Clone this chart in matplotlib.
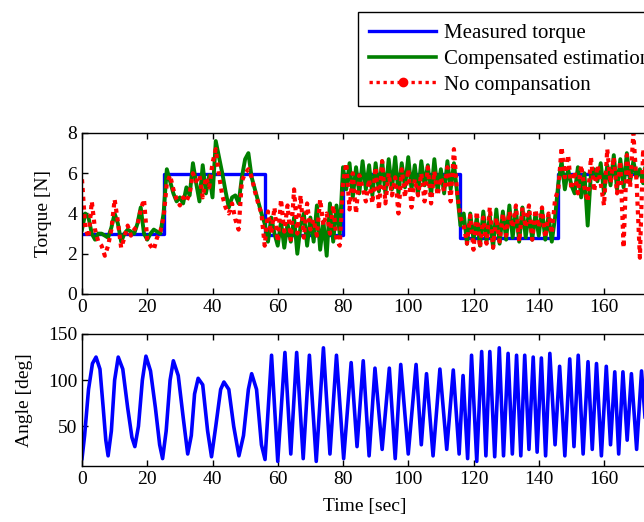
"""Measured vs. estimated torque and joint angle over time."""

import matplotlib

matplotlib.use("Agg")
import matplotlib.pyplot as plt
from matplotlib.lines import Line2D

plt.rcParams["font.family"] = ["Liberation Serif", "DejaVu Serif"]
plt.rcParams["font.size"] = 14

# measured torque: piecewise constant levels (start times)
meas_t = [0, 25, 56, 80, 116, 146, 180]
meas_v = [3.0, 5.95, 2.95, 5.95, 2.8, 5.95, 5.95]

# estimates sampled once per second, t = 0..175
est_t = list(range(176))
comp_v = [
    3.2, 4.0, 3.8, 3.0, 2.7, 3.0, 3.0, 2.9, 2.8, 3.3,
    4.0, 3.5, 2.6, 3.0, 3.2, 3.1, 3.0, 3.5, 4.3, 3.0,
    2.7, 3.0, 3.2, 3.1, 3.0, 4.0, 6.2, 5.6, 5.0, 4.6,
    4.8, 4.5, 5.3, 4.9, 6.5, 5.5, 4.6, 6.4, 5.0, 5.9,
    4.8, 7.6, 6.8, 6.0, 5.1, 4.3, 4.8, 4.9, 4.5, 5.8,
    6.7, 7.0, 5.8, 5.2, 4.6, 4.0, 3.5, 2.6, 3.8, 3.0,
    2.4, 3.6, 2.3, 3.5, 2.6, 3.8, 2.0, 3.4, 4.0, 2.4,
    3.8, 2.6, 4.4, 2.2, 3.6, 1.9, 4.5, 2.6, 4.4, 3.0,
    6.3, 5.2, 6.5, 4.8, 6.3, 5.0, 6.6, 5.2, 6.4, 4.9,
    6.5, 5.1, 6.6, 5.0, 6.7, 5.2, 6.8, 5.0, 6.5, 5.3,
    6.8, 5.2, 6.4, 5.0, 6.6, 5.4, 6.4, 4.9, 6.7, 5.1,
    6.2, 5.0, 6.6, 5.2, 6.5, 5.0, 3.4, 4.0, 2.5, 4.0,
    2.7, 3.8, 2.4, 4.1, 2.6, 3.9, 2.3, 4.2, 2.5, 4.1,
    2.7, 4.4, 2.8, 4.2, 2.6, 4.3, 2.8, 4.1, 2.7, 4.0,
    2.9, 4.2, 2.7, 3.9, 2.6, 3.8, 5.5, 6.6, 5.2, 6.2,
    5.4, 5.0, 6.3, 4.8, 6.0, 3.4, 6.0, 6.2, 5.6, 6.5,
    5.0, 6.4, 5.4, 6.9, 5.2, 6.7, 5.3, 7.0, 5.6, 6.6,
    5.8, 6.2, 5.5, 6.8, 5.6, 6.5,
]
nocomp_v = [
    5.7, 3.3, 2.8, 4.6, 3.2, 2.6, 2.4, 1.9, 2.4, 3.2,
    4.7, 3.6, 2.3, 2.8, 3.4, 2.9, 3.2, 3.4, 4.2, 4.7,
    2.7, 2.4, 2.2, 2.8, 3.1, 3.8, 5.5, 5.9, 5.2, 4.7,
    4.4, 4.8, 4.6, 5.0, 6.0, 5.6, 5.9, 4.8, 5.8, 5.3,
    6.5, 7.2, 5.9, 4.9, 4.3, 4.0, 4.5, 3.7, 3.2, 5.6,
    6.0, 6.2, 5.8, 5.1, 4.5, 4.0, 2.4, 4.1, 3.0, 4.3,
    2.6, 4.7, 3.1, 4.4, 2.7, 5.2, 3.0, 4.9, 2.8, 4.5,
    3.2, 3.7, 2.9, 4.7, 3.4, 4.0, 3.0, 4.4, 2.7, 2.4,
    5.5, 6.5, 4.2, 6.0, 4.0, 5.9, 5.3, 4.6, 5.7, 4.5,
    6.3, 4.2, 6.6, 4.5, 6.0, 4.9, 5.8, 4.0, 6.2, 4.8,
    6.2, 4.3, 5.7, 4.9, 6.0, 4.6, 6.3, 4.5, 6.1, 4.9,
    5.8, 5.1, 6.3, 4.6, 7.2, 5.0, 3.8, 3.4, 2.5, 3.9,
    2.2, 4.1, 2.3, 3.8, 2.5, 4.3, 2.3, 3.8, 2.6, 4.0,
    2.9, 4.1, 3.3, 4.4, 2.6, 4.3, 3.3, 4.4, 2.7, 4.2,
    3.3, 4.3, 2.8, 4.0, 3.0, 4.7, 5.2, 7.3, 5.8, 6.9,
    5.2, 6.1, 5.0, 6.4, 5.3, 4.6, 6.8, 5.1, 6.4, 5.5,
    4.4, 7.2, 5.5, 6.8, 5.0, 6.6, 2.3, 6.9, 5.3, 8.0,
    5.5, 1.8, 7.2, 5.4, 6.9, 6.2,
]

# joint angle: turning points
ang_t = [
    0, 0.8, 2, 3.2, 4.3, 5.5, 6.5, 7.3, 8.0, 9.0, 10.0, 11.1, 12.5, 14,
    15.3, 16.2, 17.3, 18.5, 19.6, 21, 22.5, 23.8, 24.7, 25.8, 27, 28,
    29.5, 31, 32.4, 33.5, 34.5, 35.6, 37, 38.5, 39.7, 41, 42.5, 43.5, 45,
    46.5, 48.1, 49.5, 51, 52, 53.5, 55, 56.1,
    58.1, 60.0, 62.2, 64.0, 65.8, 67.8, 69.7, 71.8, 74.0, 76.0, 78.0,
    80.2, 82.5, 84.3, 86.2, 88.0, 89.8, 92.0, 94.2, 96.0, 97.7, 100.0,
    102.4, 104.0, 105.6, 107.6, 109.7, 111.8, 113.8, 115.6, 116.8, 118.2,
    119.4, 121.0, 122.5, 123.8, 125, 126.5, 127.9, 129.2, 130.6, 131.9,
    133.2, 134.5, 135.7, 137, 138.3, 139.5, 140.8, 142.1, 143.4, 145,
    146.4, 148, 149.5, 150.8, 152.1, 153.6, 155.1, 156.4, 157.7, 159.2,
    160.7, 162, 163.3, 164.5, 165.8, 167.1, 168.4, 170, 171.5, 173,
    174.5, 176,
]
ang_v = [
    15, 40, 90, 118, 125, 112, 70, 35, 18, 45, 100, 125, 112, 70,
    38, 28, 50, 100, 126, 110, 70, 30, 15, 45, 100, 121,
    105, 60, 20, 40, 85, 102, 95, 45, 17, 50, 90, 98, 90,
    50, 18, 40, 90, 107, 90, 30, 14,
    127, 12, 130, 20, 130, 15, 127, 12, 135, 20, 127,
    15, 119, 28, 121, 18, 113, 25, 113, 15, 117, 20,
    117, 30, 107, 18, 112, 25, 111, 20, 105, 15,
    127, 12, 131, 18, 131, 17, 135, 18, 129, 20,
    127, 18, 127, 25, 125, 22, 124, 18, 129, 30,
    115, 18, 123, 28, 127, 20, 120, 25, 118, 18,
    115, 30, 109, 20, 109, 35, 107, 25, 110, 40,
    105, 20,
]

W, H = 644, 522
fig = plt.figure(figsize=(W / 100, H / 100), dpi=100)
px = 3.2625  # pixels per second on the time axis
span = 180 * px
ax1 = fig.add_axes([82 / W, (H - 294) / H, span / W, (294 - 133) / H])
ax2 = fig.add_axes([82 / W, (H - 466) / H, span / W, (466 - 334) / H])

ax1.step(meas_t, meas_v, where="post", color="#0000ff", lw=2.4)
ax1.plot(est_t, comp_v, color="#008000", lw=2.8)
ax1.plot(est_t, nocomp_v, color="#ff0000", lw=3.0, ls=(0, (1, 1.1)))
ax1.set_ylim(0, 8)
ax1.set_yticks([0, 2, 4, 6, 8])
ax1.set_ylabel("Torque [N]")
ax1.yaxis.set_label_coords((52 - 82) / span, 0.5)

ax2.plot(ang_t, ang_v, color="#0000ff", lw=2.6)
ax2.set_ylim(7, 150)
ax2.set_yticks([50, 100, 150])
ax2.set_ylabel("Angle [deg]")
ax2.yaxis.set_label_coords((33 - 82) / span, 0.5)
ax2.set_xlabel("Time [sec]")
ax2.xaxis.set_label_coords((365 - 82) / span, -(498 - 466) / 132)

for ax in (ax1, ax2):
    ax.set_xlim(0, 180)
    ax.set_xticks(range(0, 161, 20))
    ax.tick_params(direction="in", top=True, right=True, length=4, width=1)
    for s in ax.spines.values():
        s.set_linewidth(1)

handles = [
    Line2D([], [], color="#0000ff", lw=2.4),
    Line2D([], [], color="#008000", lw=2.6),
    Line2D([], [], color="#ff0000", lw=2.4, ls=(0, (1, 1.1)),
           marker="o", markersize=6),
]
labels = ["Measured torque", "Compensated estimation", "No compansation"]
fig.legend(handles, labels, loc="upper left", fontsize=15,
           bbox_to_anchor=(358 / W, 1 - 12 / H), fancybox=False,
           framealpha=1, edgecolor="black", handlelength=3.2,
           borderpad=0.55, labelspacing=0.3, handletextpad=0.4,
           borderaxespad=0)

fig.savefig("out.png", dpi=100)
